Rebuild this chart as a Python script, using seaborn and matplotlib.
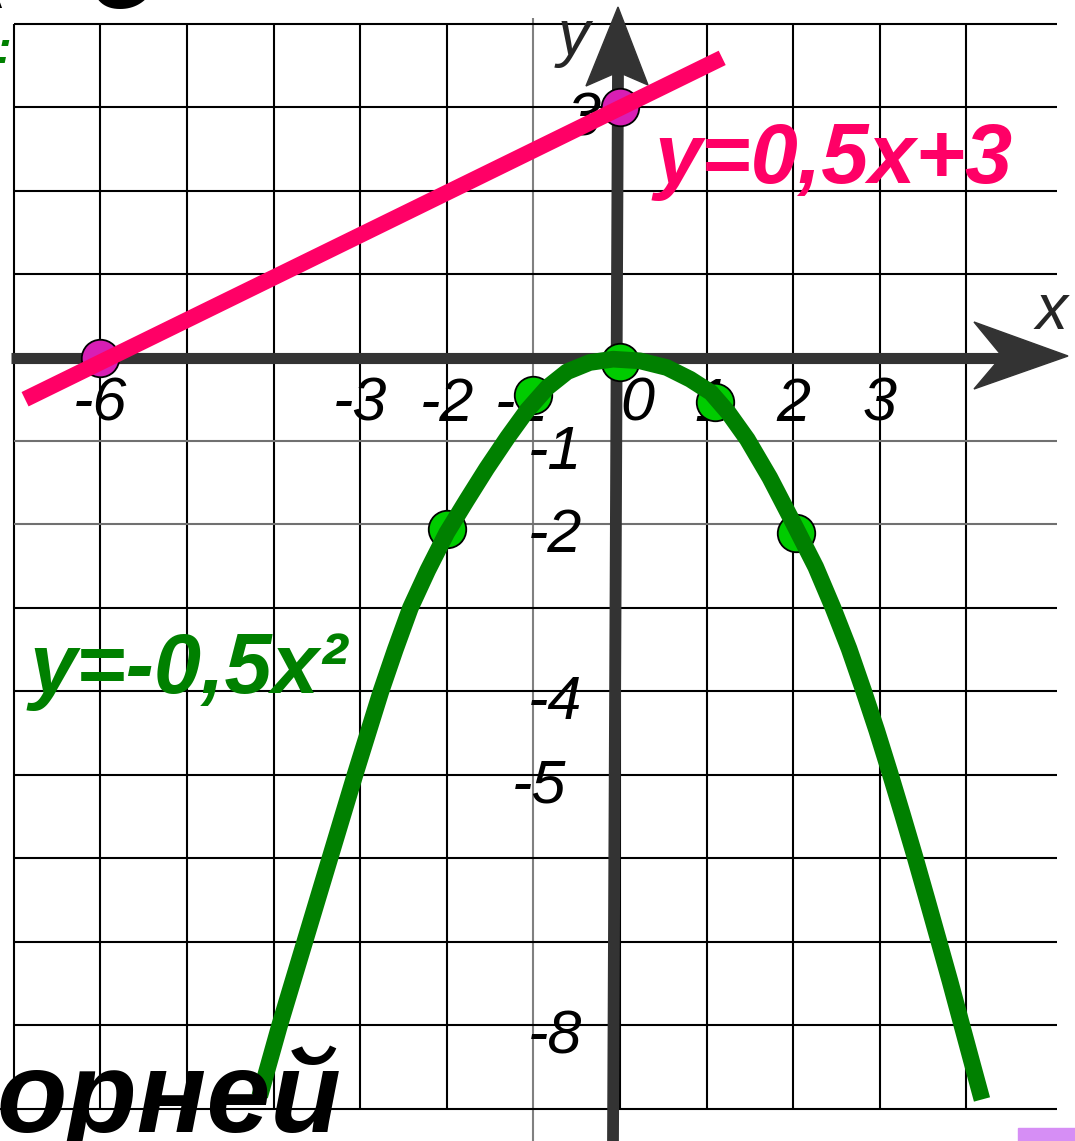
import matplotlib
matplotlib.use("Agg")
import matplotlib.pyplot as plt
import seaborn as sns
import pandas as pd
from matplotlib.patches import Polygon, Rectangle

# ---------------- data ----------------
parab_x = [-4.16, -3.93, -3.785, -3.64, -3.495, -3.35, -3.205, -3.06, -2.91, -2.76,
           -2.595, -2.42, -2.22, -2.00, -1.77, -1.54, -1.30, -1.07, -0.84, -0.61,
           -0.35, -0.08, 0.23, 0.54, 0.81, 1.05, 1.25, 1.47, 1.73, 2.02, 2.26,
           2.46, 2.645, 2.815, 2.965, 3.115, 3.26, 3.405, 3.545, 3.675, 3.81, 3.945, 4.07, 4.18]
parab_y = [-8.85, -8.00, -7.50, -7.00, -6.50, -6.00, -5.50, -5.00, -4.50, -4.00,
           -3.50, -3.00, -2.55, -2.10, -1.71, -1.33, -0.96, -0.63, -0.36, -0.17,
           -0.06, -0.02, -0.04, -0.12, -0.26, -0.42, -0.66, -0.98, -1.44, -2.02, -2.51,
           -3.00, -3.49, -4.00, -4.47, -4.97, -5.47, -5.98, -6.49, -6.97, -7.47, -7.99, -8.47, -8.89]
line_x = [-6.87, 1.18]
line_y = [-0.50, 3.59]
line_pts_x = [-6, 0]
line_pts_y = [0, 3]
parab_pts_x = [-2.0, -1.0, 0.0, 1.1, 2.03]
parab_pts_y = [-2.05, -0.45, -0.05, -0.53, -2.10]
x_tick_vals = [-6, -3, -2, -1, 0, 1, 2, 3]
x_tick_labels = ["-6", "-3", "-2", "-1", "0", "1", "2", "3"]
y_tick_vals = [3, -1, -2, -4, -5, -8]
y_tick_labels = ["3", "-1", "-2", "-4", "-5", "-8"]
line_label = "y=0,5x+3"
parab_label = "y=-0,5x²"
bottom_text = "орней"

# ---------------- layout ----------------
W, H = 1075, 1141
X0, SX = 620.0, 86.6
Y0, SY = 357.5, 83.46
XL = (-X0 / SX, (W - X0) / SX)
YL = (-(H - Y0) / SY, Y0 / SY)

def px(x):
    return (x - X0) / SX

def py(y):
    return (Y0 - y) / SY

sns.set_style("white")
plt.rcParams['font.family'] = ['Liberation Sans', 'DejaVu Sans']

fig = plt.figure(figsize=(W / 100, H / 100), dpi=100)
ax = fig.add_axes([0, 0, 1, 1])
ax.set_xlim(*XL)
ax.set_ylim(*YL)
ax.axis("off")

# grid
for gx in range(-7, 5):
    c = "#808080" if gx == -1 else "black"
    y0 = YL[0] if gx == -1 else -9
    y1 = py(18) if gx == -1 else 4
    ax.plot([gx, gx], [y0, y1], color=c, lw=1.5, zorder=1, solid_capstyle="butt")
for gy in range(-9, 5):
    c = "#707070" if gy in (-1, -2) else "black"
    x0 = px(0) if gy == -9 else -7
    ax.plot([x0, px(1057)], [gy, gy], color=c, lw=1.5, zorder=1, solid_capstyle="butt")

# tick labels
tick_kw = dict(fontsize=44, style="italic", color="black", ha="center", va="center", zorder=2)
x_off = {0: 0.2, -1: -0.13, 1: 0.06}
for v, t in zip(x_tick_vals, x_tick_labels):
    ax.text(v + x_off.get(v, 0.0), -0.57, t, **tick_kw)
y_xpos = {3: -0.42, -5: -0.93}
for v, t in zip(y_tick_vals, y_tick_labels):
    ax.text(y_xpos.get(v, -0.75), v - 0.15, t, **tick_kw)
ax.text(px(574), py(38), "y", fontsize=46, style="italic", ha="center", va="center", zorder=2)
ax.text(px(1052), py(312), "x", fontsize=46, style="italic", ha="center", va="center", zorder=2)

# axes with arrows
axis_c = "#333333"
ax.plot([px(11), px(1005)], [0, 0], color=axis_c, lw=8, zorder=3, solid_capstyle="butt")
ax.add_patch(Polygon([(px(1068), py(356)), (px(974), py(322)), (px(1002), py(356)), (px(974), py(389))],
                     closed=True, color=axis_c, zorder=3))
ax.plot([px(613), px(618)], [YL[0], py(70)], color=axis_c, lw=8.5, zorder=3, solid_capstyle="butt")
ax.add_patch(Polygon([(px(618), py(7)), (px(586), py(86)), (px(618), py(72)), (px(648), py(85))],
                     closed=True, color=axis_c, zorder=3))

# markers
df_lp = pd.DataFrame({"x": line_pts_x, "y": line_pts_y})
df_pp = pd.DataFrame({"x": parab_pts_x, "y": parab_pts_y})
sns.scatterplot(data=df_lp, x="x", y="y", ax=ax, s=27 ** 2, color="#d81eb4",
                edgecolor="black", linewidth=1.3, zorder=4)
sns.scatterplot(data=df_pp, x="x", y="y", ax=ax, s=27 ** 2, color="#00cc00",
                edgecolor="black", linewidth=1.3, zorder=4)

# curves
df_line = pd.DataFrame({"x": line_x, "y": line_y})
df_par = pd.DataFrame({"x": parab_x, "y": parab_y})
sns.lineplot(data=df_line, x="x", y="y", ax=ax, color="#ff0066", lw=11.5, sort=False,
             zorder=5, solid_capstyle="butt")
sns.lineplot(data=df_par, x="x", y="y", ax=ax, color="#008000", lw=12, sort=False,
             zorder=5, solid_capstyle="butt", solid_joinstyle="round")
ax.set_xlim(*XL)
ax.set_ylim(*YL)
ax.axis("off")

# formula labels
ax.text(px(655), py(183), line_label, fontsize=61, style="italic", weight="bold",
        color="#ff0066", ha="left", va="baseline", zorder=6)
ax.text(px(30), py(693), parab_label, fontsize=61, style="italic", weight="bold",
        color="#008000", ha="left", va="baseline", zorder=6)

# cut-off surrounding slide text
ax.text(px(-4), py(1132), bottom_text, fontsize=83, style="italic", weight="bold",
        color="black", ha="left", va="baseline", zorder=6)
ax.text(px(12), py(63), ":", fontsize=34, style="italic", weight="bold",
        color="#008000", ha="right", va="baseline", zorder=6)
ax.text(px(125), py(8), "о", fontsize=83, style="italic", weight="bold",
        color="black", ha="center", va="baseline", zorder=6)
ax.text(px(8), py(8), "к", fontsize=83, style="italic", weight="bold",
        color="black", ha="right", va="baseline", zorder=6)
ax.add_patch(Rectangle((px(1018), py(1141)), (1075 - 1018) / SX, 13 / SY,
                       color="#d68ef5", zorder=6))

fig.savefig("out.png", dpi=100)
